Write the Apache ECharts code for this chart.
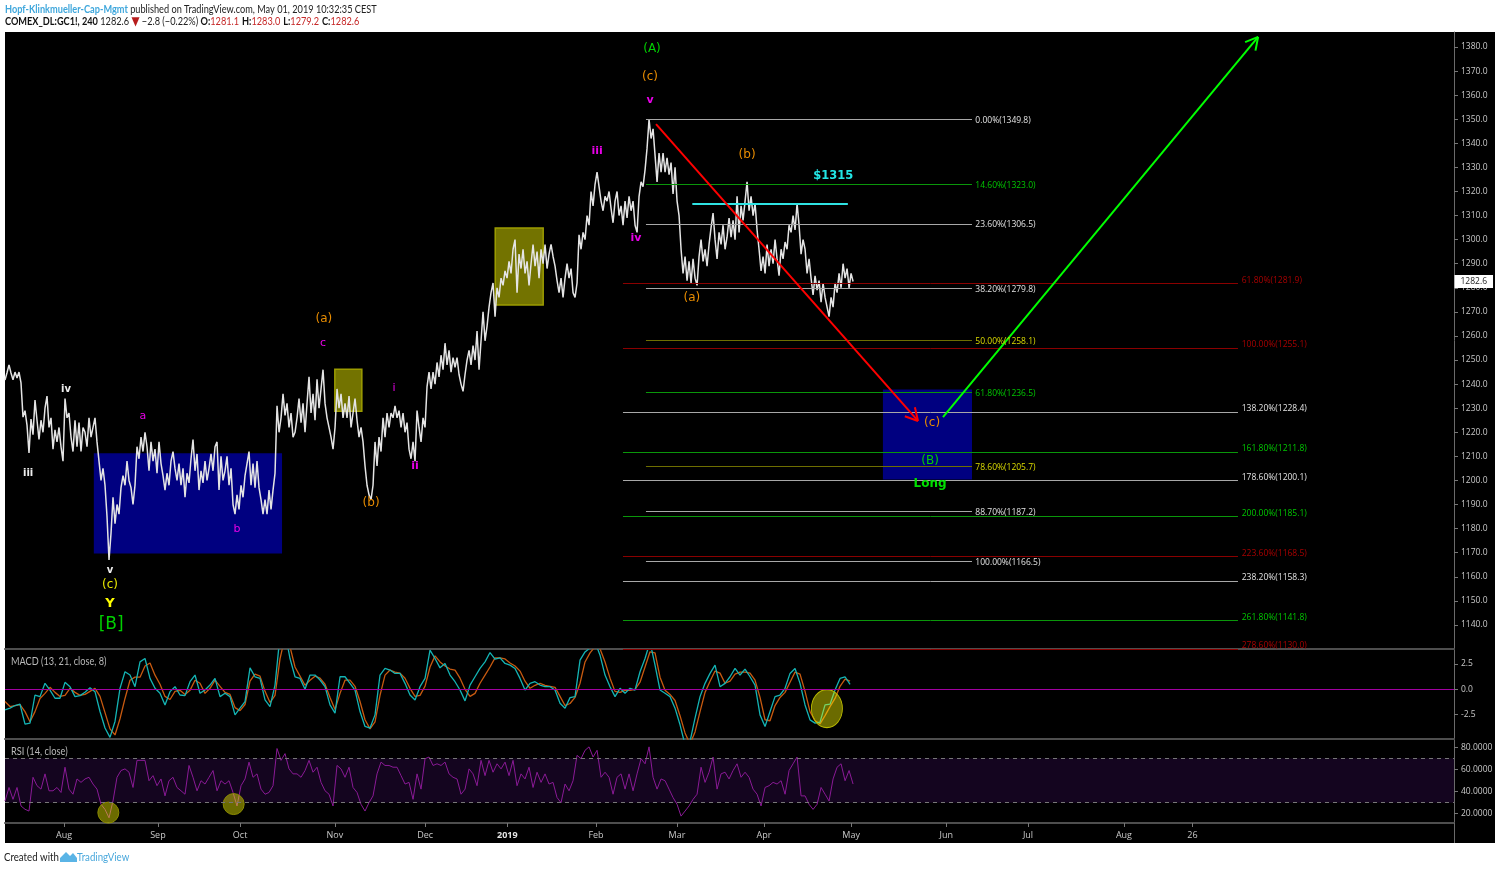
<!DOCTYPE html>
<html><head><meta charset="utf-8"><style>html,body{margin:0;padding:0;background:#fff}#c{width:1500px;height:870px}</style>
<script src="https://cdn.jsdelivr.net/npm/echarts@6/dist/echarts.min.js"></script></head><body><div id="c"></div>
<script>
// ---------- time scale (trading days after 1 Aug 2018) ----------
const xMinDay=-14.64, xMaxDay=344.9;
const monthTicks=[0,23.3,43.7,67.2,89.6,110,132,152.1,173.7,195.3,218.9,239.2,263,280];
const monthNames=['Aug','Sep','Oct','Nov','Dec','2019','Feb','Mar','Apr','May','Jun','Jul','Aug','26'];
const priceTicks=[1140,1150,1160,1170,1180,1190,1200,1210,1220,1230,1240,1250,1260,1270,1280,1290,1300,1310,1320,1330,1340,1350,1360,1370,1380];
const macdTicks=[-2.5,0,2.5];
const rsiTicks=[20,40,60,80];
// ---------- price ----------
const priceStartDay=-14.64, priceStepDays=0.4963;
const priceValues=[
1241.7,1244.7,1248,1244.6,1241.8,1245,1242.5,1245,1240.5,1226.3,
1229,1223,1211.4,1225.5,1219,1233.4,1225,1217,1225,1220,
1230,1235,1222,1226,1213,1221,1216,1222,1214,1208,
1234,1226,1228,1218,1212,1225,1214,1224,1212,1222,
1220,1214,1226,1218,1222,1226,1216,1208,1200,1205,
1198,1185,1167,1178,1193,1182,1190,1186,1197,1202,
1198,1208,1200,1197,1190,1198,1214,1209,1218,1212,
1220,1214,1204,1216,1208,1213,1203,1216,1207,1202,
1196,1203,1198,1208,1212,1205,1200,1207,1198,1205,
1193,1203,1199,1209,1217,1204,1211,1196,1204,1199,
1208,1200,1205,1211,1204,1214,1216,1196,1210,1200,
1204,1210,1198,1205,1190,1186,1194,1188,1198,1193,
1202,1207,1212,1198,1207,1197,1208,1197,1192,1186,
1192,1186,1196,1188,1196,1203,1231,1220,1226,1236,
1227,1232,1222,1228,1218,1220,1226,1234,1224,1232,
1220,1232,1243,1228,1236,1225,1242,1230,1238,1246,
1232,1226,1222,1218,1213,1222,1238,1230,1236,1226,
1232,1226,1235,1222,1228,1234,1225,1218,1222,1216,
1206,1198,1194,1192,1198,1216,1206,1218,1212,1226,
1218,1228,1222,1228,1226,1231,1226,1229,1222,1228,
1220,1224,1213,1209,1216,1208,1229,1222,1216,1226,
1222,1239,1245,1238,1245,1240,1249,1243,1252,1246,
1257,1248,1254,1245,1251,1247,1251,1244,1240,1237,
1244,1250,1254,1248,1256,1250,1262,1246,1258,1270,
1258,1264,1272,1278,1282,1268,1280,1276,1284,1281,
1287,1284,1291,1286,1296,1300,1278,1294,1288,1296,
1286,1291,1281,1290,1298,1289,1295,1284,1296,1290,
1298,1288,1294,1298,1293,1289,1283,1278,1284,1276,
1284,1290,1284,1288,1278,1276,1282,1302,1296,1303,
1300,1310,1306,1320,1314,1323,1328,1322,1316,1312,
1318,1316,1320,1313,1307,1316,1320,1310,1314,1306,
1316,1309,1318,1312,1316,1306,1303,1318,1324,1322,
1329,1338,1350,1342,1346,1335,1324,1336,1328,1336,
1328,1334,1327,1332,1319,1330,1316,1310,1296,1286,
1293,1283,1291,1282,1292,1284,1281,1293,1300,1291,
1296,1289,1298,1305,1311,1300,1292,1303,1298,1306,
1296,1301,1309,1301,1308,1300,1318,1303,1314,1308,
1316,1324,1312,1318,1310,1315,1304,1296,1287,1293,
1286,1298,1289,1296,1290,1300,1292,1285,1296,1292,
1299,1296,1306,1303,1310,1304,1315,1306,1294,1300,
1296,1286,1292,1284,1277,1285,1279,1283,1274,1282,
1276,1272,1268,1276,1272,1282,1278,1286,1280,1290,
1284,1288,1280,1286,1282.6];
const lastClose=1282.6;
// ---------- MACD ----------
const macdStartDay=-14.64, macdStepDays=1.2407;
const macdValues=[
-2.03,-1.86,-1.6,-1.47,-3.43,-3.33,-.56,-.72,.59,-.07,-.88,-.88,.69,.26,-.72,-.62,-.29,.16,-.23,-2.19,
-3.82,-4.74,-3.17,.1,1.73,1.41,.26,2.71,3.04,1.08,.1,-.39,-1.54,-.23,.26,-.56,-.62,.75,1.41,-.39,
-.07,.42,1.08,-.72,-.39,-.72,-2.52,-1.86,-1.21,2.12,1.24,1.08,-1.05,-1.7,.42,5.3,5.65,3.04,1.24,1.08,
0,1.41,1.41,.92,.26,-1.54,-2.35,1.24,1.24,.59,-.07,-2.19,-3.66,-3.82,-2.52,1.41,2.06,1.9,1.57,1.57,
.59,-.56,-1.05,.26,1.08,3.86,3.04,2.12,2.55,1.41,.75,-.07,-1.14,.42,1.24,2.06,2.71,3.63,2.97,3.1,
2.55,2.39,2.06,1.08,-.07,.59,.75,.42,.26,.26,-.07,-1.37,-1.86,-.82,-.72,2.88,3.69,4.08,4.67,3.37,
1.41,.26,-.72,.1,-.39,.1,-.07,1.73,3.04,4.67,2.39,-.07,-.39,-.72,-1.86,-3.5,-5.46,-5.13,-2.84,-.72,
.59,1.57,2.39,.26,.59,1.24,2.06,1.41,1.99,1.24,.42,-2.52,-3.66,-2.19,-.72,-.56,.1,1.57,2.06,.59,
-1.54,-3.01,-3.33,-3.24,-1.54,-1.47,-.07,1.08,1.24,.49];
const signalValues=[
-1.2,-1.7,-1.6,-1.5,-2.2,-3.2,-2.2,-.9,-.4,.2,-.3,-.7,-.6,.1,-.3,-.6,-.5,-.2,.1,-.7,
-2.3,-3.9,-4.5,-2.9,-.9,.9,1.2,1.2,2.3,2.6,1.4,.5,-.7,-1,-.2,-.1,-.5,-.1,.9,.6,
-.4,.1,.9,.3,-.3,-.5,-1.8,-2.1,-1.5,.8,1.5,1.3,-.2,-1.3,-.6,3,5.2,4.2,2.2,1.3,
.4,.9,1.3,1.1,.5,-.8,-2,-.4,.9,.9,.3,-1.2,-3,-3.9,-3.2,-.6,1.4,1.9,1.7,1.6,
1.1,.1,-.7,-.6,.3,2.2,3.3,2.7,2.3,2,1.9,1.1,0,-.7,-.4,.6,1.4,2.2,3.1,3.1,
3,2.6,2.3,1.8,.8,.1,.4,.6,.4,.3,.2,-.7,-1.6,-1.4,-.8,.6,2.7,3.6,4.2,4,
2.7,1.1,-.2,-.3,-.1,-.1,0,.7,2.2,3.7,3.6,1.2,-.1,-.5,-1.1,-2.6,-4.3,-5.4,-4.2,-2.2,
-.3,.8,1.8,1.6,.6,.8,1.5,1.7,1.7,1.6,.9,-.8,-3,-3.1,-1.6,-.8,-.3,.7,1.7,1.5,
-.2,-2.2,-3.1,-3.4,-2.6,-1.7,-.9,.3,1,.8];
// ---------- RSI ----------
const rsiStartDay=-14.64, rsiStepDays=0.9926;
const rsiValues=[
31.5,43.7,33,43.7,27,24,22.4,52.9,45.3,42.2,56,40.7,40.7,43.7,39.2,62,42.2,37.6,51.4,48.3,
51.4,52.9,46.8,42.2,28.5,23.9,16.3,31.5,52.9,59,60.5,57.5,43.7,68.2,68.2,68.2,49.8,54.4,45.3,51.4,
36.1,49.8,52.9,43.7,40.7,37.6,63.6,52.9,40.7,49.8,46.8,52.9,59,40.7,49.8,46.8,49.8,39.2,27,45.3,
51.4,66.6,52.9,56,42.2,37.6,39.2,45.3,78.9,68.2,74.3,60.5,56,56,52.9,59,68.2,57.5,62,48.3,
40.7,37.6,27,63.6,60.5,52.9,62,43.7,39.2,28.5,22.4,30,36.1,56,66.6,63.6,63.6,62,62,54.4,
46.8,48.3,33,56,42.2,69.7,71.2,63.6,65.1,63.6,
66.6,56,52.9,51.4,37.6,42.2,60.5,56,45.3,68.2,54.4,68.2,57.5,65.1,60.5,66.6,54.4,68.2,45.3,56,
51.4,62,43.7,57.5,48.3,56,46.8,48.3,34.6,30,46.8,40.7,49.8,72.7,69.7,77.3,80.4,71.2,77.3,52.9,
57.5,52.9,37.6,52.9,56,42.2,56,40.7,56,69.7,65.1,80.4,52.9,42.2,51.4,49.8,42.2,34.6,28.5,17.8,
22.4,27,33,37.6,62,48.3,57.5,71.2,42.2,56,57.5,51.4,59,65.1,52.9,57.5,52.9,42.2,37.6,27,
43.7,45.3,48.3,46.8,49.8,37.6,59,65.1,71.2,36.1,36.1,28.5,23.9,28.5,43.7,37.6,31.5,51.4,62,65.1,
49.8,59,46.8];
const rsiUpper=70, rsiLower=30;
// ---------- Fibonacci levels ----------
const retraceStart=144.4, retraceEnd=225.3;
const retraceLevels=[1349.8,1323.0,1306.5,1279.8,1258.1,1236.5,1205.7,1187.2,1166.5];
const retraceNames=['0.00%(1349.8)','14.60%(1323.0)','23.60%(1306.5)','38.20%(1279.8)','50.00%(1258.1)','61.80%(1236.5)','78.60%(1205.7)','88.70%(1187.2)','100.00%(1166.5)'];
const retraceRoles=['white','green','white','white','yellow','green','yellow','white','white'];
const extStart=138.7, extEnd=291.3;
const extLevels=[1281.9,1255.1,1228.4,1211.8,1200.1,1185.1,1168.5,1158.3,1141.8,1130.0];
const extNames=['61.80%(1281.9)','100.00%(1255.1)','138.20%(1228.4)','161.80%(1211.8)','178.60%(1200.1)','200.00%(1185.1)','223.60%(1168.5)','238.20%(1158.3)','261.80%(1141.8)','278.60%(1130.0)'];
const extRoles=['red','red','white','green','white','green','red','white','green','red'];
const resistance=1315, resistanceFrom=155.9, resistanceTo=194.5;
// ---------- zones [day from, day to, price low, price high] ----------
const blueZones=[[7.4,54.1,1169.7,1211.3],[203.2,225.3,1200.4,1237.8]];
const yellowZones=[[67.2,73.9,1228.7,1246.2],[107,118.9,1272.9,1304.8]];
// ---------- forecast arrows [day1, price1, day2, price2] ----------
const redArrow=[[146.9,1348,211.9,1224.7]];
const greenArrow=[[218.1,1226.3,296.3,1384.2]];
// ---------- wave labels ----------
const waveTexts=['(A)','(c)','v','iii','iv','(b)','$1315','(a)','(a)','c','a','iv','iii','i','ii','(b)','b','v','(c)','Y','[B]','(c)','(B)','Long'];
const waveDays=[145.9,145.4,145.4,132.3,141.9,169.5,190.6,155.8,64.5,64.3,19.6,.5,-8.9,81.9,87.1,76.2,42.9,11.4,11.4,11.4,11.7,215.4,214.9,214.9];
const wavePrices=[1380,1368.4,1358,1336.8,1300.7,1336,1326.8,1276.6,1267.9,1257.1,1226.8,1238.4,1203.5,1238.4,1206,1191.5,1179.8,1163.2,1157.4,1149.5,1140.8,1224.7,1208.9,1198.9];
const waveRoles=['green','orange','magentaB','magentaB','magentaB','orange','cyanB','orange','orange','magenta','magenta','whiteB','whiteB','magenta','magentaB','orange','magenta','whiteB','yellow','yellowB','greenL','orange','green','greenB'];
// ---------- highlight marks ----------
const rsiCircles=[[11,21],[42.1,28.7]];
const macdEllipse=[[189.3,-1.9]];

// ========== styles ==========
const LATO='Lato, "Open Sans", sans-serif', DV='"DejaVu Sans", sans-serif', OS='"Open Sans",sans-serif';
const lineColor={white:'#a8a8a8',green:'#0a960a',yellow:'#6e6e00',red:'#8a0000'};
const fibText={white:'#e2e2e2',green:'#00c800',yellow:'#dcdc00',red:'#a80000'};
const waveStyle={
 green:{color:'#00d000',fontSize:12,offset:[0,2]},orange:{color:'#e88c00',fontSize:12,offset:[0,2]},
 magenta:{color:'#e800e8',fontSize:11,offset:[0,0]},magentaB:{color:'#e800e8',fontSize:11,fontWeight:'bold',offset:[0,0]},
 whiteB:{color:'#eeeeee',fontSize:10,fontWeight:'bold',offset:[0,1]},cyanB:{color:'#22e6e6',fontSize:11.5,fontWeight:'bold',offset:[1,1]},
 yellow:{color:'#e6e600',fontSize:12,offset:[0,2]},yellowB:{color:'#ffff00',fontSize:13,fontWeight:'bold',offset:[0,2]},
 greenL:{color:'#00d000',fontSize:17,offset:[0,2]},greenB:{color:'#00e000',fontSize:12,fontWeight:'bold',offset:[0,1]}};
const axisC='#4e4e4e', labC='#c8c8c8';

const seq=(arr,s,st)=>arr.map((v,i)=>[s+i*st,v]);
const emptyAxis=i=>({type:'value',gridIndex:i,min:xMinDay,max:xMaxDay,axisLine:{show:true,onZero:false,lineStyle:{color:axisC,width:2}},axisTick:{show:false},axisLabel:{show:false},splitLine:{show:false}});
const yAx=(i,min,max,ticks,fmt)=>({type:'value',gridIndex:i,position:'right',min,max,scale:true,
 axisLine:{show:true,onZero:false,lineStyle:{color:'#6a6a6a',width:1}},
 axisTick:{show:true,length:4,lineStyle:{color:'#777'},customValues:ticks},
 axisLabel:{color:labC,fontSize:8.5,fontFamily:OS,margin:7,customValues:ticks,formatter:fmt},
 splitLine:{show:false}});
const fibMark=(levels,roles,a,b)=>levels.map((v,i)=>[
 {coord:[a,v],lineStyle:{color:lineColor[roles[i]],width:1,type:'solid'}},{coord:[b,v]}]);
const fibLabels=(levels,names,roles,x,dy)=>levels.map((v,i)=>({value:[x,v],
 label:{show:true,position:'right',distance:0,offset:[0,dy],formatter:names[i],color:fibText[roles[i]],fontSize:8.5,fontFamily:OS}}));
const arrowItem=(color)=>(params,api)=>{
 const a=api.coord([api.value(0),api.value(1)]),b=api.coord([api.value(2),api.value(3)]);
 const t=Math.atan2(b[1]-a[1],b[0]-a[0]),L=14,w=0.5;
 const st={stroke:color,lineWidth:2,fill:null};
 const wing=s=>({type:'line',shape:{x1:b[0],y1:b[1],x2:b[0]-L*Math.cos(t+s*w),y2:b[1]-L*Math.sin(t+s*w)},style:st});
 return {type:'group',children:[{type:'line',shape:{x1:a[0],y1:a[1],x2:b[0],y2:b[1]},style:st},wing(1),wing(-1)]};
};
const arrowSeries=(data,color)=>({type:'custom',xAxisIndex:0,yAxisIndex:0,z:6,clip:false,silent:true,data,encode:{x:[0,2],y:[1,3]},renderItem:arrowItem(color)});
const ghost={color:'transparent',opacity:1};

const rsiAxis=emptyAxis(2);
rsiAxis.axisTick={show:true,length:4,lineStyle:{color:'#777'},customValues:monthTicks};
rsiAxis.axisLabel={show:true,color:labC,fontSize:9,fontFamily:OS,margin:8,customValues:monthTicks,
 formatter:v=>{const n=monthNames[monthTicks.indexOf(v)];return n==='2019'?'{b|2019}':n;},rich:{b:{fontWeight:'bold',color:'#e4e4e4',fontSize:9}}};

const option={
 animation:false,backgroundColor:'#ffffff',
 grid:[{left:5,top:32,width:1449,height:617},{left:5,top:650,width:1449,height:89},{left:5,top:740,width:1449,height:83}],
 xAxis:[emptyAxis(0),emptyAxis(1),rsiAxis],
 yAxis:[yAx(0,1130,1386.23,priceTicks,v=>v.toFixed(1)),
        yAx(1,-4.9,3.88,macdTicks,v=>v.toFixed(1)),
        yAx(2,11.6,86.6,rsiTicks,v=>v.toFixed(4))],
 series:[
  // fibonacci level lines
  {type:'line',data:[],xAxisIndex:0,yAxisIndex:0,z:1,silent:true,
   markLine:{silent:true,symbol:'none',label:{show:false},animation:false,data:[
    ...fibMark(retraceLevels,retraceRoles,retraceStart,retraceEnd),
    ...fibMark(extLevels,extRoles,extStart,extEnd)]}},
  // price
  {name:'GC1!',type:'line',xAxisIndex:0,yAxisIndex:0,z:2,showSymbol:false,silent:true,data:seq(priceValues,priceStartDay,priceStepDays),
   lineStyle:{color:'#e4e4e4',width:1.5}},
  // zones
  {type:'line',data:[],xAxisIndex:0,yAxisIndex:0,z:3,silent:true,
   markArea:{silent:true,itemStyle:{color:'rgba(0,0,255,0.5)'},data:blueZones.map(z=>[{coord:[z[0],z[3]]},{coord:[z[1],z[2]]}])}},
  {type:'line',data:[],xAxisIndex:0,yAxisIndex:0,z:3,silent:true,
   markArea:{silent:true,itemStyle:{color:'rgba(255,255,0,0.45)',borderColor:'#9c9c00',borderWidth:1.5},data:yellowZones.map(z=>[{coord:[z[0],z[3]]},{coord:[z[1],z[2]]}])}},
  // resistance
  {type:'line',data:[],xAxisIndex:0,yAxisIndex:0,z:5,silent:true,
   markLine:{silent:true,symbol:'none',label:{show:false},data:[[{coord:[resistanceFrom,resistance],lineStyle:{color:'#2fe3e3',width:2,type:'solid'}},{coord:[resistanceTo,resistance]}]]}},
  arrowSeries(redArrow,'#ff0000'),
  arrowSeries(greenArrow,'#00ff00'),
  // fib labels + wave labels
  {type:'scatter',xAxisIndex:0,yAxisIndex:0,z:8,clip:false,silent:true,symbolSize:1,itemStyle:ghost,
   data:[...fibLabels(retraceLevels,retraceNames,retraceRoles,226,1),
         ...fibLabels(extLevels,extNames,extRoles,292.1,-3)]},
  {type:'scatter',xAxisIndex:0,yAxisIndex:0,z:8,clip:false,silent:true,symbolSize:1,itemStyle:ghost,
   data:waveTexts.map((t,i)=>({value:[waveDays[i],wavePrices[i]],
    label:{show:true,position:'inside',formatter:t,fontFamily:DV,...waveStyle[waveRoles[i]]}}))},
  // last price tag
  {type:'scatter',xAxisIndex:0,yAxisIndex:0,z:9,clip:false,silent:true,symbolSize:1,itemStyle:ghost,
   data:[{value:[xMaxDay,lastClose],label:{show:true,position:'right',distance:0,formatter:lastClose.toFixed(1),color:'#222',backgroundColor:'#ffffff',
    fontSize:8.5,fontFamily:OS,padding:[2,6,2,6],lineHeight:9}}]},
  // MACD
  {name:'Signal',type:'line',xAxisIndex:1,yAxisIndex:1,z:2,showSymbol:false,silent:true,data:seq(signalValues,macdStartDay,macdStepDays),lineStyle:{color:'#c85a10',width:1.3}},
  {name:'MACD',type:'line',xAxisIndex:1,yAxisIndex:1,z:3,showSymbol:false,silent:true,data:seq(macdValues,macdStartDay,macdStepDays),lineStyle:{color:'#14b4b4',width:1.3},
   markLine:{silent:true,symbol:'none',label:{show:false},lineStyle:{color:'#a000a0',width:1.2,type:'solid'},data:[{yAxis:0}]}},
  {type:'scatter',xAxisIndex:1,yAxisIndex:1,z:4,silent:true,symbolSize:[31,38],itemStyle:{color:'rgba(255,255,0,0.42)',borderColor:'#b8b800',borderWidth:1,opacity:1},data:macdEllipse},
  // RSI
  {name:'RSI',type:'line',xAxisIndex:2,yAxisIndex:2,z:3,showSymbol:false,silent:true,data:seq(rsiValues,rsiStartDay,rsiStepDays),lineStyle:{color:'#8a1a96',width:1},
   markArea:{silent:true,itemStyle:{color:'#14051f'},data:[[{yAxis:rsiUpper},{yAxis:rsiLower}]]},
   markLine:{silent:true,symbol:'none',label:{show:false},lineStyle:{color:'#777',width:1,type:[4,4]},data:[{yAxis:rsiUpper},{yAxis:rsiLower}]}},
  {type:'scatter',xAxisIndex:2,yAxisIndex:2,z:4,silent:true,symbolSize:21,itemStyle:{color:'rgba(255,255,0,0.42)',borderColor:'#8c8c00',borderWidth:1,opacity:1},data:rsiCircles}
 ],
 graphic:[
  {type:'rect',z:-100,silent:true,shape:{x:5,y:32,width:1490,height:811},style:{fill:'#000'}},
  {type:'rect',z:-101,silent:true,shape:{x:0,y:0,width:1500,height:870},style:{fill:'#fff'}},
  {type:'line',z:1,silent:true,shape:{x1:1454.5,y1:823,x2:1454.5,y2:843},style:{stroke:'#6a6a6a',lineWidth:1}},
  {type:'text',z:20,silent:true,x:5,y:4,scaleX:.875,style:{font:'10.5px '+LATO,text:'{a|Hopf-Klinkmueller-Cap-Mgmt}{n| published on TradingView.com, May 01, 2019 10:32:35 CEST}',
    rich:{a:{fill:'#3fa7dc',fontWeight:'bold',fontFamily:LATO,fontSize:10.5},n:{fill:'#222',fontFamily:LATO,fontSize:10.5}}}},
  {type:'text',z:20,silent:true,x:5,y:16,scaleX:.875,style:{text:'{b|COMEX_DL:GC1!, 240}{n| 1282.6 }{t|▼}{n| −2.8 (−0.22%) }{b|O:}{r|1281.1} {b|H:}{r|1283.0} {b|L:}{r|1279.2} {b|C:}{r|1282.6}',
    rich:{b:{fill:'#111',fontWeight:'bold',fontFamily:LATO,fontSize:10.5},n:{fill:'#222',fontFamily:LATO,fontSize:10.5},r:{fill:'#c62828',fontFamily:LATO,fontSize:10.5},t:{fill:'#b71c1c',fontFamily:DV,fontSize:12}}}},
  {type:'text',z:20,silent:true,x:11,y:656,scaleX:.875,style:{text:'MACD (13, 21, close, 8)',fill:'#b8b8b8',font:'10.5px '+LATO}},
  {type:'text',z:20,silent:true,x:11,y:746,scaleX:.885,style:{text:'RSI (14, close)',fill:'#b8b8b8',font:'10.5px '+LATO}},
  {type:'text',z:20,silent:true,x:4,y:852,scaleX:.88,style:{text:'Created with',fill:'#222',font:'11px '+LATO}},
  {type:'polygon',z:20,silent:true,shape:{points:[[60,862],[60,858],[66,852],[70,856],[73,853],[77,858],[77,862]]},style:{fill:'#5ab4e6'}},
  {type:'text',z:20,silent:true,x:77,y:852,scaleX:.88,style:{text:'TradingView',fill:'#4aa8dc',font:'11px '+LATO}}
 ]
};
echarts.init(document.getElementById('c'),null,{renderer:'canvas'}).setOption(option);
</script></body></html>
